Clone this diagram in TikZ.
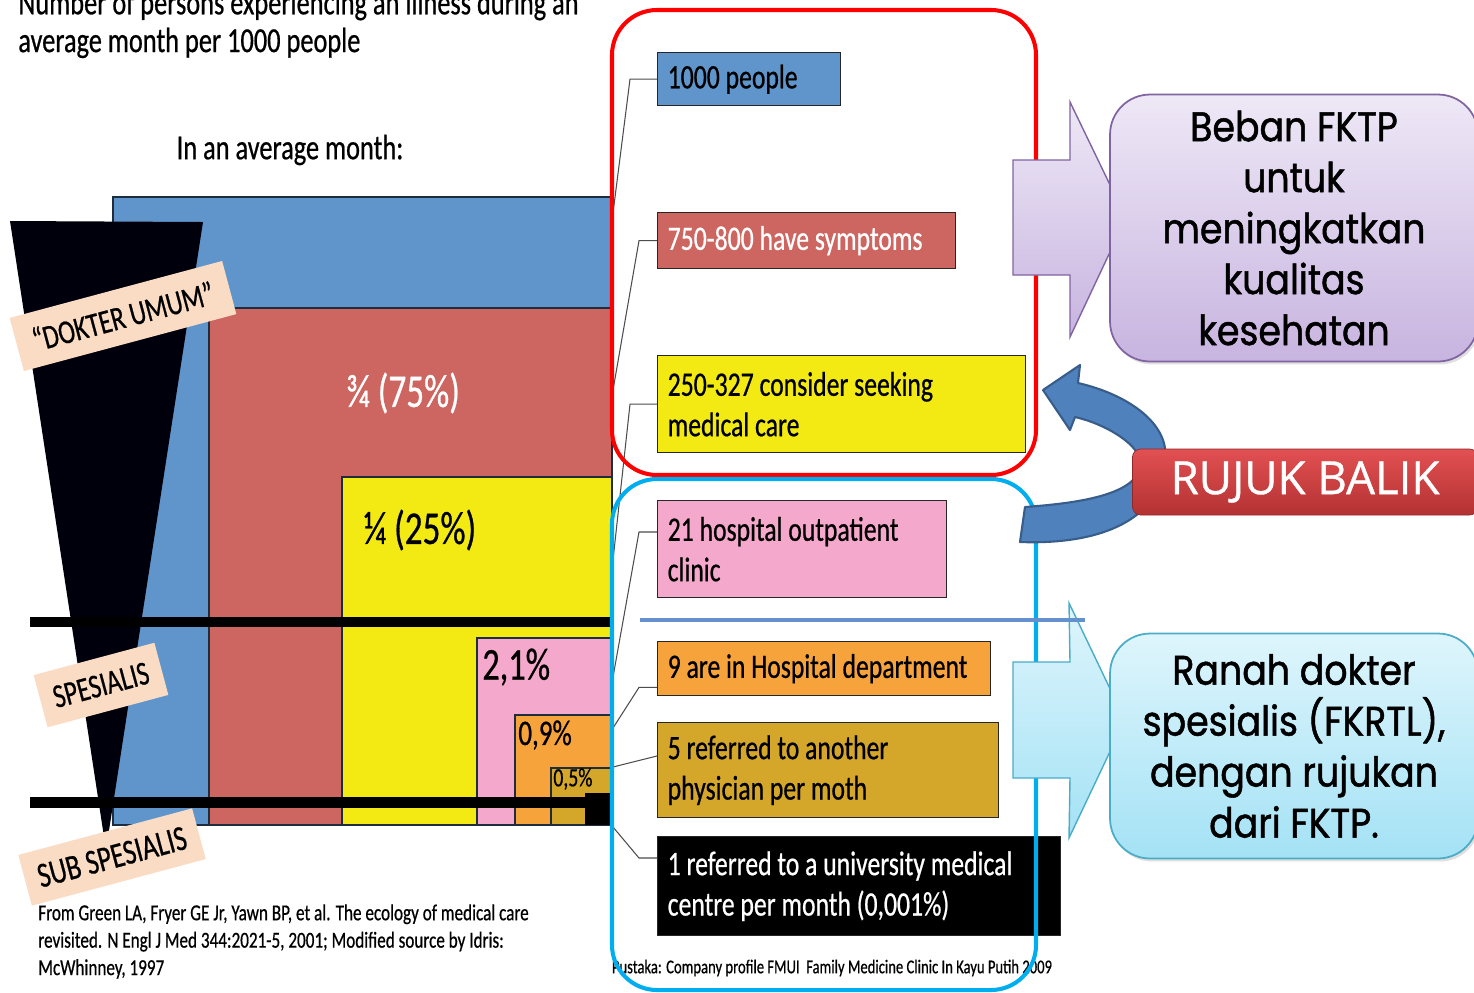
\documentclass[tikz,border=0pt]{standalone}
\usepackage{fontspec}
\setmainfont{Carlito}
\newfontfamily\condfont[FakeStretch=0.75, FakeBold=0.6]{Carlito}
\newfontfamily\roundfont[FakeStretch=0.88, FakeBold=1.2]{Poppins}
\newfontfamily\btnfont[FakeBold=0.8]{Open Sans}
\usetikzlibrary{shadows}

\definecolor{chblue}{RGB}{96,149,203}
\definecolor{chred}{RGB}{205,101,96}
\definecolor{chyellow}{RGB}{242,234,18}
\definecolor{chpink}{RGB}{244,168,203}
\definecolor{chorange}{RGB}{247,163,60}
\definecolor{chgold}{RGB}{212,167,42}
\definecolor{beige}{RGB}{249,220,195}
\definecolor{framered}{RGB}{255,0,0}
\definecolor{framecyan}{RGB}{0,174,239}
\definecolor{sepblue}{RGB}{100,145,205}
\definecolor{lilactop}{RGB}{238,232,246}
\definecolor{lilacbot}{RGB}{200,180,224}
\definecolor{lilacedge}{RGB}{128,100,162}
\definecolor{aquatop}{RGB}{222,245,252}
\definecolor{aquabot}{RGB}{164,226,245}
\definecolor{aquaedge}{RGB}{75,172,198}
\definecolor{arcblue}{RGB}{79,129,189}
\definecolor{arcedge}{RGB}{56,93,138}
\definecolor{btntop}{RGB}{226,80,82}
\definecolor{btnbot}{RGB}{180,50,50}

\tikzset{
  fact/.style={draw=black!85, line width=0.8pt, anchor=north west, inner xsep=0.2cm, inner ysep=0pt, align=flush left, font=\condfont\fontsize{19.5}{23}\selectfont},
  tag/.style={fill=beige, rotate=15, inner sep=0pt, font=\condfont\fontsize{19.2}{21}\selectfont},
  link/.style={draw=black!70, line width=0.6pt},
  bubble/.style={rounded corners=0.8cm, line width=1pt, align=center, minimum width=7.36cm, font=\roundfont\fontsize{23.5}{29}\selectfont, drop shadow={opacity=0.25, shadow xshift=0.04cm, shadow yshift=-0.06cm}},
  zone/.style={rounded corners=0.9cm, line width=2.3pt},
  bar/.style={draw=chblue!30!black, line width=0.6pt},
}

\begin{document}
\begin{tikzpicture}[x=0.02cm, y=-0.02cm]
\useasboundingbox (0,0) rectangle (1474,992);

% heading
\node[anchor=west, align=left, inner sep=0pt, font=\condfont\fontsize{20}{21.5}\selectfont] (title) at (18,24) {Number of persons experiencing an illness during an\\average month per 1000 people};
\node[font=\condfont\fontsize{20}{22}\selectfont] (month) at (290,150) {In an average month:};

% nested bars
\filldraw[fill=chblue, bar] (113,197) rectangle (612,825);
\filldraw[fill=chred, bar] (209,308) rectangle (612,825);
\filldraw[fill=chyellow, bar] (342,477) rectangle (612,825);
\filldraw[fill=chpink, bar] (477,638) rectangle (612,825);
\filldraw[fill=chorange, bar] (515,715) rectangle (612,825);
\filldraw[fill=chgold, bar] (551,768) rectangle (612,825);
\fill[black] (585,793) rectangle (612,825);

% funnel and level lines
\fill[black!95!blue] (10,221) -- (203,222) -- (106,850) -- cycle;
\draw[line width=0.2cm] (30,622) -- (612,622);
\draw[line width=0.22cm] (30,802) -- (590,802);

\node[text=white, font=\condfont\fontsize{26.7}{29}\selectfont] (q75) at (403,393) {¾ (75\%)};
\node[font=\condfont\fontsize{26.7}{29}\selectfont] (q25) at (420,530) {¼ (25\%)};
\node[anchor=west, inner sep=0pt, font=\condfont\fontsize{26}{28}\selectfont] (q21) at (482,667) {2,1\%};
\node[anchor=west, inner sep=0pt, font=\condfont\fontsize{20.5}{22}\selectfont] (q09) at (518,735) {0,9\%};
\node[anchor=west, inner sep=0pt, font=\condfont\fontsize{15}{16}\selectfont] (q05) at (553,779) {0,5\%};

% levels
\node[tag, minimum width=4.4cm, minimum height=1.1cm] (umum) at (123,316) {“DOKTER UMUM”};
\node[tag, minimum width=2.5cm, minimum height=1.08cm] (spes) at (101,685) {SPESIALIS};
\node[tag, minimum width=3.6cm, minimum height=1.05cm, font=\condfont\fontsize{20.2}{22}\selectfont] (subspes) at (112,857) {SUB SPESIALIS};

\node[anchor=north west, align=left, inner sep=0pt, font=\condfont\fontsize{13}{15.6}\selectfont] (cite) at (38,904) {From Green LA, Fryer GE Jr, Yawn BP, et al. The ecology of medical care\\revisited. N Engl J Med 344:2021-5, 2001; Modified source by Idris:\\McWhinney, 1997};
\node[inner sep=0pt, font=\condfont\fontsize{11.1}{12}\selectfont] (src) at (832,968) {Pustaka: Company profile FMUI \ Family Medicine Clinic In Kayu Putih 2009};

% facts
\node[fact, fill=chblue, text width=3.26cm, minimum height=1.06cm] (p1000) at (657,52) {1000 people};
\node[fact, fill=chred, text=white, text width=5.56cm, minimum height=1.12cm] (psym) at (657,212) {750-800 have symptoms};
\node[fact, fill=chyellow, text width=6.96cm, minimum height=1.94cm] (pseek) at (657,355) {250-327 consider seeking\\medical care};
\node[fact, fill=chpink, text width=5.38cm, minimum height=1.94cm] (pout) at (657,500) {21 hospital outpatient\\clinic};
\node[fact, fill=chorange, text width=6.26cm, minimum height=1.08cm] (pdept) at (657,641) {9 are in Hospital department};
\node[fact, fill=chgold, text width=6.42cm, minimum height=1.9cm] (pref) at (657,722) {5 referred to another\\physician per moth};
\node[fact, fill=black, text=white, text width=7.66cm, minimum height=1.98cm] (puni) at (657,836) {1 referred to a university medical\\centre per month (0,001\%)};

\coordinate (a1) at (613,213);
\coordinate (a2) at (613,390);
\coordinate (a3) at (613,560);
\coordinate (a4) at (613,677);
\coordinate (a5) at (613,728);
\coordinate (a6) at (613,767);
\coordinate (a7) at (613,827);
\draw[link] (p1000.west) -- ++(-27,0) -- (a1);
\draw[link] (psym.west) -- ++(-18,0) -- (a2);
\draw[link] (pseek.west) -- ++(-27,0) -- (a3);
\draw[link] ([yshift=-0.64cm]pout.north west) -- ++(-18,0) -- (a4);
\draw[link] ([yshift=0.18cm]pdept.south west) -- ++(-18,0) -- (a5);
\draw[link] ([yshift=-0.68cm]pref.north west) -- (a6);
\draw[link] ([yshift=-0.44cm]puni.north west) -- ++(-18,0) -- (a7);

% zones
\draw[zone, draw=framered] (612,10) rectangle (1036,475);
\draw[zone, draw=framecyan] (612,479) rectangle (1036,990);

% block arrows
\shade[top color=lilactop, bottom color=lilacbot, draw=lilacedge, line width=0.8pt] (1013,160) -- (1070,160) -- (1070,102) -- (1126,218) -- (1070,337) -- (1070,275) -- (1013,275) -- cycle;
\shade[top color=aquatop, bottom color=aquabot, draw=aquaedge, line width=0.8pt] (1013,662) -- (1070,662) -- (1069,603) -- (1125,720) -- (1069,838) -- (1070,778) -- (1013,778) -- cycle;
\draw[sepblue, line width=2.3pt] (640,620) -- (1085,620);

\node[bubble, top color=lilactop, bottom color=lilacbot, draw=lilacedge, minimum height=5.34cm] (beban) at (1294,228) {Beban FKTP\\untuk\\meningkatkan\\kualitas\\kesehatan};
\node[bubble, top color=aquatop, bottom color=aquabot, draw=aquaedge, minimum height=4.5cm] (ranah) at (1294,746) {Ranah dokter\\spesialis (FKRTL),\\dengan rujukan\\dari FKTP.};

% back-referral arrow
\filldraw[fill=arcblue, draw=arcedge, line width=1.2pt, line join=round]
  (1025,507) .. controls (1080,503) and (1130,495) .. (1140,470)
  .. controls (1148,450) and (1110,425) .. (1075,417)
  -- (1070,430) -- (1043,390) -- (1080,365) -- (1078,383)
  .. controls (1130,395) and (1170,425) .. (1165,460)
  .. controls (1162,520) and (1100,545) .. (1020,542) -- cycle;
\node[rounded corners=0.16cm, top color=btntop, bottom color=btnbot, draw=btnbot!80!black, minimum width=6.9cm, minimum height=1.32cm, text=white, font=\btnfont\fontsize{26}{30}\selectfont] (balik) at (1305,482) {RUJUK BALIK};
\end{tikzpicture}
\end{document}
